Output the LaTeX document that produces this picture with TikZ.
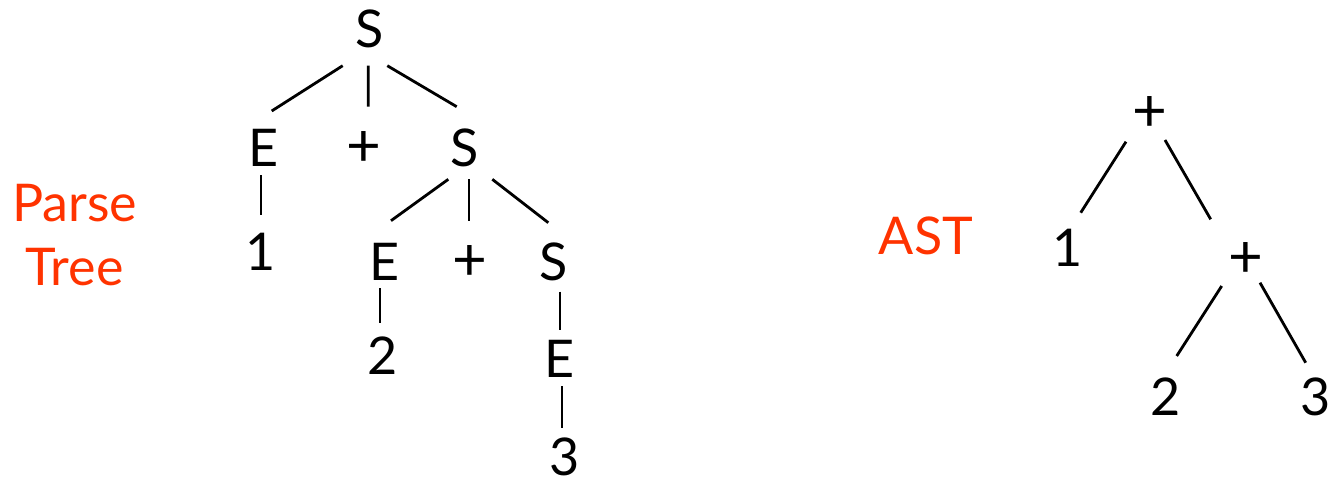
\documentclass[tikz,border=0pt]{standalone}
\usepackage{fontspec}
\setmainfont{Lato}
\definecolor{lblred}{RGB}{255,51,0}
\tikzset{
  sym/.style={anchor=base, inner sep=0pt, font=\fontsize{26}{31}\selectfont, text=black},
  plus/.style={sym, font=\fontsize{30}{36}\selectfont},
  lbl/.style={anchor=base, inner sep=0pt, font=\fontsize{26}{31}\selectfont, text=lblred},
  edge/.style={draw=black, line width=1.4pt}
}
\begin{document}
\begin{tikzpicture}[x=0.5pt, y=-0.5pt]
\useasboundingbox (0,0) rectangle (1329,483);
% labels
\node[lbl] (lparse) at (74.7,221.7) {Parse};
\node[lbl] (ltree) at (74.7,285) {Tree};
\node[lbl] (last) at (926,254) {AST};
% parse tree
\node[sym] (S0) at (370,47) {S};
\node[sym] (E1) at (263.3,166) {E};
\node[plus] (P1) at (363.7,166) {+};
\node[sym] (S1) at (465,166) {S};
\node[sym] (N1) at (260.5,270) {1};
\node[sym] (E2) at (385,280.7) {E};
\node[plus] (P2) at (469.5,280.7) {+};
\node[sym] (S2) at (554,280.7) {S};
\node[sym] (N2) at (382.5,374) {2};
\node[sym] (E3) at (560,377) {E};
\node[sym] (N3) at (565,475) {3};
\draw[edge] ([shift={(-27.3,18.7)}]S0.base) -- ([shift={(8.4,-55)}]E1.base);
\draw[edge] ([shift={(-1.7,18.7)}]S0.base) -- ([shift={(4.6,-59.3)}]P1.base);
\draw[edge] ([shift={(17.3,18.7)}]S0.base) -- ([shift={(-8.3,-59.3)}]S1.base);
\draw[edge] ([shift={(-2.3,9)}]E1.base) -- ([shift={(0.5,-55)}]N1.base);
\draw[edge] ([shift={(-16.7,13.3)}]S1.base) -- ([shift={(6,-60)}]E2.base);
\draw[edge] ([shift={(4,13.3)}]S1.base) -- ([shift={(-0.5,-60)}]P2.base);
\draw[edge] ([shift={(27.3,13.3)}]S1.base) -- ([shift={(-5.7,-58)}]S2.base);
\draw[edge] ([shift={(-5,7.3)}]E2.base) -- ([shift={(-2.5,-51)}]N2.base);
\draw[edge] ([shift={(6,11)}]S2.base) -- ([shift={(0,-47)}]E3.base);
\draw[edge] ([shift={(2,9)}]E3.base) -- ([shift={(-3,-47)}]N3.base);
% AST
\node[plus] (A0) at (1150,131) {+};
\node[sym] (A1) at (1068,266.7) {1};
\node[plus] (A2) at (1245.5,277) {+};
\node[sym] (A3) at (1166,415) {2};
\node[sym] (A4) at (1316,415) {3};
\draw[edge] ([shift={(-24,10.7)}]A0.base) -- ([shift={(12.7,-54)}]A1.base);
\draw[edge] ([shift={(15,9)}]A0.base) -- ([shift={(-34.8,-57.7)}]A2.base);
\draw[edge] ([shift={(-23.8,9)}]A2.base) -- ([shift={(10.7,-59)}]A3.base);
\draw[edge] ([shift={(14.5,5.7)}]A2.base) -- ([shift={(-10.3,-52.3)}]A4.base);
\end{tikzpicture}
\end{document}
